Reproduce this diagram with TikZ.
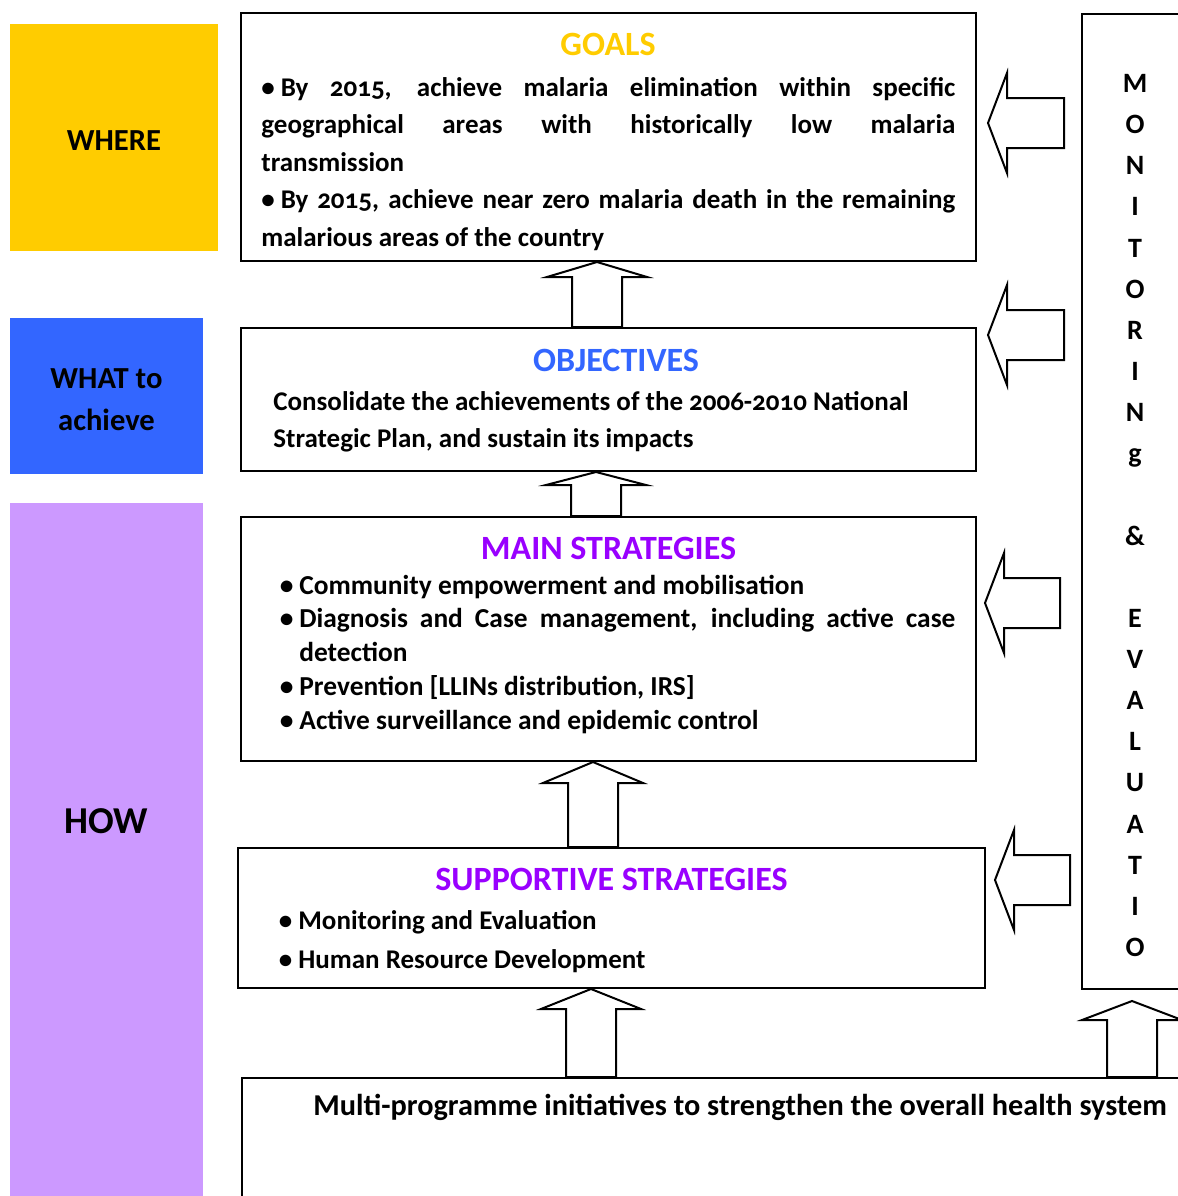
\documentclass[tikz,border=0pt]{standalone}
\usepackage{fontspec}
\setmainfont{Carlito}[Numbers=OldStyle]
\usetikzlibrary{calc}

\definecolor{whereyellow}{HTML}{FFCC00}
\definecolor{whatblue}{HTML}{3366FF}
\definecolor{howlilac}{HTML}{CC99FF}
\definecolor{stratpurple}{HTML}{9900FF}

\tikzset{
  box/.style={draw, line width=1pt, inner sep=0pt},
  side/.style={inner sep=0pt, align=center, font=\fontsize{15.3}{21}\selectfont\bfseries},
  boxtitle/.style={anchor=base, inner sep=0pt, font=\fontsize{17}{20}\selectfont\bfseries},
  body/.style={anchor=base west, inner sep=0pt, font=\fontsize{13.5}{18.75}\selectfont\bfseries},
  blockarr/.style={draw, fill=white, line width=1pt, line join=miter}
}

% hollow arrow pointing up: tip, tail, head length
\newcommand{\uparr}[3]{%
  \draw[blockarr] let \p1=(#1), \p2=(#2) in
    (\p1) -- (\x1+25pt,\y1-#3) -- (\x1+12.5pt,\y1-#3) -- (\x1+12.5pt,\y2)
    -- (\x1-12.5pt,\y2) -- (\x1-12.5pt,\y1-#3) -- (\x1-25pt,\y1-#3) -- cycle;}
% hollow arrow pointing left: tip, length
\newcommand{\leftarr}[2]{%
  \draw[blockarr] (#1) -- ++(9.5pt,25pt) -- ++(0pt,-12.5pt) -- ++(#2-9.5pt,0pt)
    -- ++(0pt,-25pt) -- ++(-#2+9.5pt,0pt) -- ++(0pt,-12.5pt) -- cycle;}
\newcommand{\itembul}{\leavevmode\llap{\textbullet\hspace{3pt}}}

\begin{document}
\begin{tikzpicture}[x=0.5pt, y=-0.5pt]
    \useasboundingbox (0,0) rectangle (1178,1196);
    \clip (0,0) rectangle (1178,1196);

    % left column
    \node[fill=whereyellow, inner sep=0pt, minimum width=104pt, minimum height=113.5pt] (where) at (114,137.5) {};
    \node[side] (whereT) at ([yshift=-1.75pt]where.center) {WHERE};
    \node[fill=whatblue, inner sep=0pt, minimum width=96.5pt, minimum height=78pt] (what) at (106.5,396) {};
    \node[side] (whatT) at ([yshift=-2pt]what.center) {WHAT to\\achieve};
    \node[fill=howlilac, inner sep=0pt, minimum width=96.5pt, minimum height=346.5pt, anchor=north west] (how) at (10,503) {};
    \node[anchor=base, inner sep=0pt, font=\fontsize{19}{22}\selectfont\bfseries] (howT) at (106.5,833) {HOW};

    % goals
    \node[box, minimum width=367.5pt, minimum height=124pt] (goals) at (608.5,137) {};
    \node[boxtitle, text=whereyellow] (goalsT) at (608,55) {GOALS};
    \node[body, text width=347pt, align=justify] (goalsB) at (261,96)
      {\textbullet\hspace{3pt}By 2015, achieve malaria elimination within specific\linebreak
       geographical areas with historically low malaria\linebreak transmission\par
       \textbullet\hspace{3pt}By 2015, achieve near zero malaria death in the remaining\linebreak
       malarious areas of the country};

    % objectives
    \node[box, minimum width=367.5pt, minimum height=71.5pt] (objectives) at (608.5,399.5) {};
    \node[boxtitle, text=whatblue] (objectivesT) at (616,371) {OBJECTIVES};
    \node[body, text width=341pt, align=flush left] (objectivesB) at (273,410)
      {Consolidate the achievements of the 2006-2010 National\\
       Strategic Plan, and sustain its impacts};

    % main strategies
    \node[box, minimum width=367.5pt, minimum height=122pt] (mainstrat) at (608.5,639) {};
    \node[boxtitle, text=stratpurple] (mainstratT) at (608.5,559) {MAIN STRATEGIES};
    \node[body, text width=328pt, align=justify, font=\fontsize{13.7}{16.9}\selectfont\bfseries] (mainstratB) at (299,594)
      {\itembul Community empowerment and mobilisation\par
       \itembul Diagnosis and Case management, including active case\linebreak detection\par
       \itembul Prevention [LLINs distribution, IRS]\par
       \itembul Active surveillance and epidemic control};

    % supportive strategies
    \node[box, minimum width=373.5pt, minimum height=70pt] (supstrat) at (611.5,918) {};
    \node[boxtitle, text=stratpurple] (supstratT) at (611.5,890) {SUPPORTIVE STRATEGIES};
    \node[body, text width=300pt, align=flush left, font=\fontsize{13.5}{19.5}\selectfont\bfseries] (supstratB) at (298,929)
      {\itembul Monitoring and Evaluation\par
       \itembul Human Resource Development};

    % health system
    \node[box, minimum width=480pt, minimum height=70pt, anchor=north west] (health) at (241,1077) {};
    \node[body, font=\fontsize{15.15}{18}\selectfont\bfseries] (healthB) at (313,1115) {Multi-programme initiatives to strengthen the overall health system};

    % monitoring and evaluation
    \node[box, minimum width=60pt, minimum height=487.5pt, anchor=north west] (monitor) at (1081,13) {};
    \node[anchor=north, inner sep=0pt, align=center, font=\fontsize{14}{20.57}\selectfont\bfseries] (monitorT) at (1135,74)
      {M\\O\\N\\I\\T\\O\\R\\I\\N\\g\\\mbox{}\\\&\\\mbox{}\\E\\V\\A\\L\\U\\A\\T\\I\\O};

    % arrows up
    \uparr{[xshift=-5.75pt]goals.south}{objectives.north}{7.5pt}
    \uparr{[xshift=-6.25pt]objectives.south}{mainstrat.north}{6.5pt}
    \uparr{[xshift=-7.75pt]mainstrat.south}{supstrat.north}{10.5pt}
    \uparr{[xshift=-10.25pt]supstrat.south}{health.north}{10pt}
    \uparr{[xshift=-5pt, yshift=-5.5pt]monitor.south}{health.north}{9.5pt}

    % feedback arrows
    \coordinate (fbGoals) at (988,123);
    \coordinate (fbObjectives) at (988,335);
    \coordinate (fbMain) at (985,603);
    \coordinate (fbSupport) at (995,880);
    \leftarr{fbGoals}{38pt}
    \leftarr{fbObjectives}{38pt}
    \leftarr{fbMain}{37.5pt}
    \leftarr{fbSupport}{37.5pt}
\end{tikzpicture}
\end{document}
